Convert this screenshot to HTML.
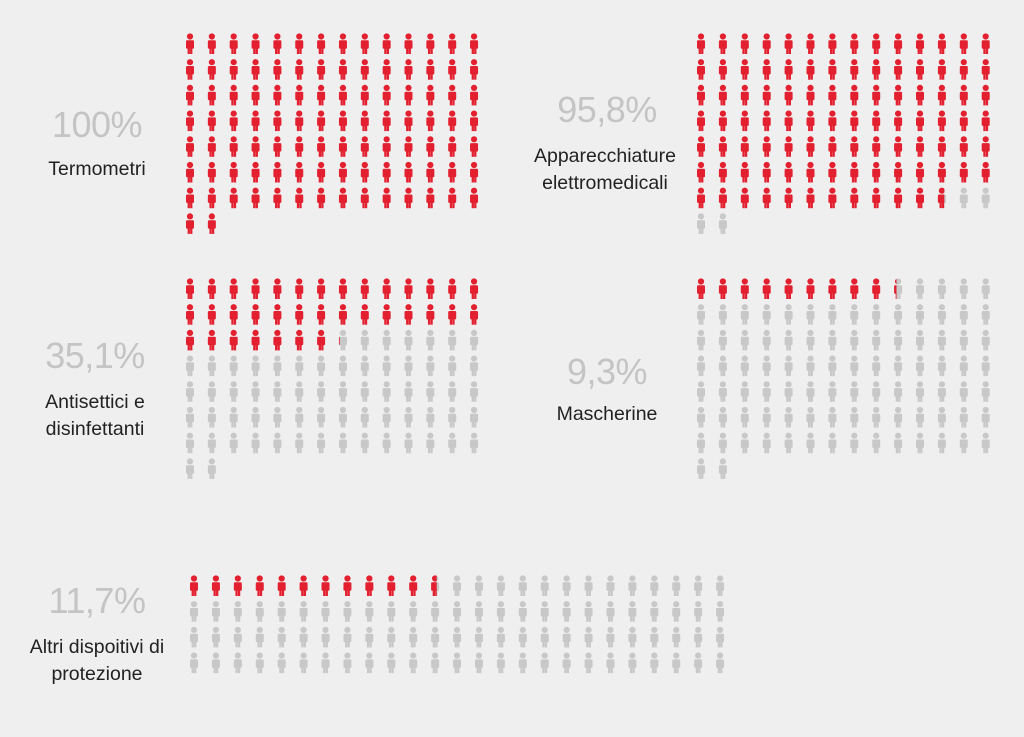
<!DOCTYPE html>
<html><head><meta charset="utf-8"><style>
html,body{margin:0;padding:0;background:#efefef;width:1024px;height:737px;overflow:hidden;font-family:"Liberation Sans",sans-serif}
.t{position:absolute;text-align:center;color:#222;font-size:19.5px;line-height:27px}
.p{position:absolute;text-align:center;color:#c4c4c4;font-size:36px;line-height:38px;font-weight:normal;letter-spacing:-0.5px}
svg{position:absolute;left:0;top:0}
</style></head><body>
<svg id="s" width="1024" height="737" xmlns="http://www.w3.org/2000/svg">
<defs>
<symbol id="ic" viewBox="0 0 10 21" overflow="visible">
<circle cx="5" cy="3.5" r="3.1"/>
<rect x="1" y="7.3" width="8" height="8.5" rx="1.2"/>
<rect x="2.6" y="14" width="2.3" height="7"/>
<rect x="5.1" y="14" width="2.3" height="7"/>
</symbol>
</defs>
</svg>
<div class="p" style="left:37px;top:106px;width:120px">100%</div>
<div class="t" style="left:17px;top:156px;width:160px">Termometri</div>
<div class="p" style="left:537px;top:91px;width:140px">95,8%</div>
<div class="t" style="left:505px;top:143px;width:200px">Apparecchiature<br>elettromedicali</div>
<div class="p" style="left:35px;top:337px;width:120px">35,1%</div>
<div class="t" style="left:15px;top:389px;width:160px">Antisettici e<br>disinfettanti</div>
<div class="p" style="left:547px;top:353px;width:120px">9,3%</div>
<div class="t" style="left:527px;top:401px;width:160px">Mascherine</div>
<div class="p" style="left:37px;top:582px;width:120px">11,7%</div>
<div class="t" style="left:-3px;top:634px;width:200px">Altri dispoitivi di<br>protezione</div>
<script>
var s=document.getElementById('s'),NS='http://www.w3.org/2000/svg',cid=0;
function mk(x,y,fill){var u=document.createElementNS(NS,'use');u.setAttribute('href','#ic');u.setAttribute('x',x);u.setAttribute('y',y);
 u.setAttribute('width',10);u.setAttribute('height',21);u.setAttribute('fill',fill);return u;}
function grid(x0,y0,cols,dx,dy,pct){
 for(var i=0;i<100;i++){
  var c=i%cols,r=Math.floor(i/cols);
  var x=x0+c*dx-5,y=y0+r*dy;
  var frac=Math.max(0,Math.min(1,pct-i));
  s.appendChild(mk(x,y,frac>=1?'#e3202f':'#c8c8c8'));
  if(frac>0&&frac<1){
   var cp=document.createElementNS(NS,'clipPath');cp.id='c'+(++cid);
   var rr=document.createElementNS(NS,'rect');rr.setAttribute('x',x);rr.setAttribute('y',y);
   rr.setAttribute('width',1+8*frac);rr.setAttribute('height',21);cp.appendChild(rr);s.appendChild(cp);
   var g=document.createElementNS(NS,'g');g.setAttribute('clip-path','url(#c'+cid+')');
   g.appendChild(mk(x,y,'#e3202f'));s.appendChild(g);
  }
 }
}
grid(190,33,14,21.85,25.7,100);
grid(701,33,14,21.9,25.7,95.8);
grid(190,278,14,21.85,25.7,35.1);
grid(701,278,14,21.9,25.7,9.3);
grid(194,575,25,21.92,25.7,11.7);
</script>
</body></html>
